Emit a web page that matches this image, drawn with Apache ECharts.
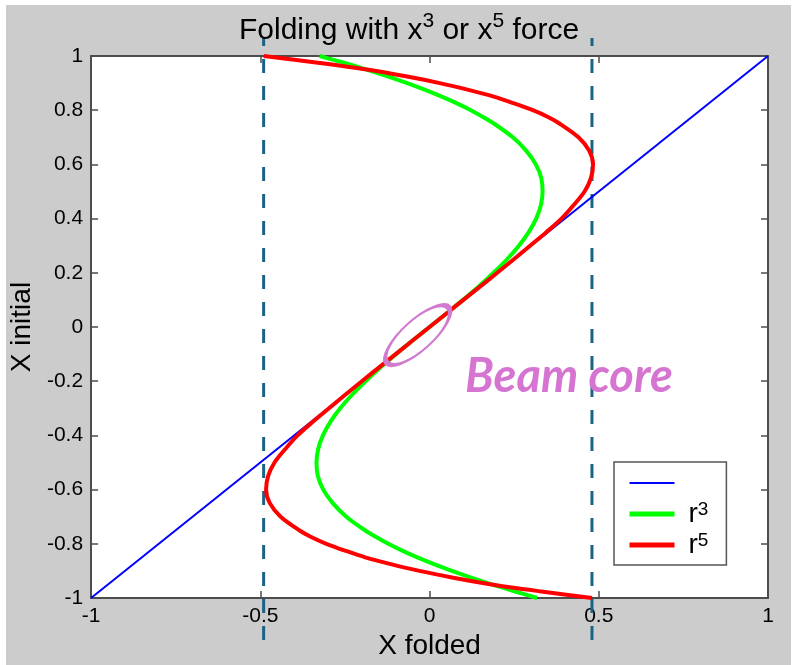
<!DOCTYPE html>
<html>
<head>
<meta charset="utf-8">
<script src="https://cdn.jsdelivr.net/npm/echarts@6/dist/echarts.min.js"></script>
<style>
  html, body { margin: 0; padding: 0; background: #ffffff; }
  #bg { position: absolute; left: 6px; top: 5px; width: 785px; height: 660px; background: #cccccc; }
  #chart { position: absolute; left: 0; top: 0; width: 794px; height: 665px; }
</style>
</head>
<body>
<div id="bg"></div>
<div id="chart"></div>
<script>
// ---- data ----
// initial position (vertical axis)
var xInitial = [-1, -0.975, -0.95, -0.925, -0.9, -0.875, -0.85, -0.825, -0.8, -0.775, -0.75, -0.7, -0.65, -0.6, -0.55, -0.5, -0.45, -0.4, -0.35, -0.3, -0.25, -0.2, -0.15, -0.1, -0.05, 0,
                0.05, 0.1, 0.15, 0.2, 0.25, 0.3, 0.35, 0.4, 0.45, 0.5, 0.55, 0.6, 0.65, 0.7, 0.75, 0.775, 0.8, 0.825, 0.85, 0.875, 0.9, 0.925, 0.95, 0.975, 1];
// folded position with x^3 force (green)
var foldedR3 = [0.318, 0.25, 0.184, 0.123, 0.066, 0.013, -0.036, -0.081, -0.122, -0.158, -0.191, -0.246, -0.286, -0.314, -0.33, -0.334, -0.329, -0.315, -0.293, -0.264, -0.229, -0.189, -0.146, -0.099, -0.05, 0,
                0.05, 0.099, 0.146, 0.189, 0.229, 0.264, 0.293, 0.315, 0.329, 0.334, 0.33, 0.314, 0.286, 0.246, 0.191, 0.158, 0.122, 0.081, 0.036, -0.013, -0.066, -0.124, -0.186, -0.253, -0.325];
// folded position with x^5 force (red)
var foldedR5 = [0.48, 0.325, 0.183, 0.07, -0.03, -0.115, -0.19, -0.25, -0.305, -0.35, -0.385, -0.44, -0.472, -0.483, -0.477, -0.458, -0.426, -0.39, -0.345, -0.297, -0.249, -0.2, -0.15, -0.1, -0.05, 0,
                0.05, 0.1, 0.15, 0.2, 0.249, 0.297, 0.345, 0.39, 0.426, 0.458, 0.477, 0.483, 0.472, 0.44, 0.385, 0.35, 0.305, 0.25, 0.19, 0.115, 0.03, -0.07, -0.185, -0.33, -0.49];
// un-folded reference (blue): x folded = x initial
var identityX = [-1, 1];
var identityY = [-1, 1];
// fold limits (dashed verticals)
var foldLimits = [-0.49, 0.48];
// beam core marker centre
var beamCore = [-0.035, -0.03];
// tick settings
var xTicks = { min: -1, max: 1, interval: 0.5 };
var yTicks = { min: -1, max: 1, interval: 0.2 };

function zip(xs, ys) { return xs.map(function (x, i) { return [x, ys[i]]; }); }

var FONT = "'Liberation Sans', Arial, Helvetica, sans-serif";
var AXC = '#4d4d4d';

var chart = echarts.init(document.getElementById('chart'), null, { renderer: 'canvas' });

var baseAxis = {
  axisLine: { show: true, onZero: false, lineStyle: { color: AXC, width: 2 } },
  axisTick: { show: true, inside: true, length: 7, lineStyle: { color: AXC, width: 1.5 } },
  splitLine: { show: false }
};

var option = {
  animation: false,
  backgroundColor: 'transparent',
  title: {
    text: '{a|Folding with x}{s|3}{a| or x}{s|5}{a| force}',
    left: 239, top: 11, padding: 0,
    textStyle: {
      fontWeight: 'normal',
      rich: {
        a: { fontFamily: FONT, fontSize: 30, fontWeight: 'normal', color: '#000', lineHeight: 35, verticalAlign: 'bottom' },
        s: { fontFamily: FONT, fontSize: 21, fontWeight: 'normal', color: '#000', lineHeight: 21, verticalAlign: 'top' }
      }
    }
  },
  grid: [
    { left: 91, right: 26, top: 56, bottom: 67, backgroundColor: '#ffffff', show: true, borderWidth: 0 },
    { left: 91, right: 26, top: 38, bottom: 25, show: false }
  ],
  xAxis: [
    Object.assign({}, baseAxis, {
      type: 'value', gridIndex: 0, position: 'bottom', min: xTicks.min, max: xTicks.max, interval: xTicks.interval,
      name: 'X folded', nameLocation: 'middle', nameGap: 29,
      nameTextStyle: { fontFamily: FONT, fontSize: 28, color: '#000' },
      axisLabel: { fontFamily: FONT, fontSize: 21, color: '#000', margin: 8 }
    }),
    Object.assign({}, baseAxis, {
      type: 'value', gridIndex: 0, position: 'top', min: xTicks.min, max: xTicks.max, interval: xTicks.interval,
      axisLabel: { show: false }
    }),
    { type: 'value', gridIndex: 1, min: xTicks.min, max: xTicks.max, show: false }
  ],
  yAxis: [
    Object.assign({}, baseAxis, {
      type: 'value', gridIndex: 0, position: 'left', min: yTicks.min, max: yTicks.max, interval: yTicks.interval,
      name: 'X initial', nameLocation: 'middle', nameGap: 46,
      nameTextStyle: { fontFamily: FONT, fontSize: 28, color: '#000' },
      axisLabel: { fontFamily: FONT, fontSize: 21, color: '#000', margin: 8 }
    }),
    Object.assign({}, baseAxis, {
      type: 'value', gridIndex: 0, position: 'right', min: yTicks.min, max: yTicks.max, interval: yTicks.interval,
      axisLabel: { show: false }
    }),
    { type: 'value', gridIndex: 1, min: 0, max: 1, show: false }
  ],
  legend: {
    orient: 'vertical',
    left: 614, top: 462,
    padding: [7, 18, 6, 13],
    itemGap: 3,
    itemWidth: 45, itemHeight: 14,
    backgroundColor: '#ffffff',
    borderColor: '#555555', borderWidth: 1.5, borderRadius: 0,
    itemStyle: { opacity: 0 },
    data: [
      { name: 'identity', lineStyle: { width: 2 } },
      { name: 'r3', lineStyle: { width: 5 } },
      { name: 'r5', lineStyle: { width: 5 } }
    ],
    formatter: function (name) {
      if (name === 'r3') return '{b|r}{s|3}';
      if (name === 'r5') return '{b|r}{s|5}';
      return '{b| }';
    },
    textStyle: {
      padding: [0, 0, 0, 9],
      rich: {
        b: { fontFamily: FONT, fontSize: 28, color: '#000', lineHeight: 28, verticalAlign: 'bottom' },
        s: { fontFamily: FONT, fontSize: 19, color: '#000', lineHeight: 16, verticalAlign: 'top' }
      }
    }
  },
  graphic: [
    {
      type: 'text', left: 465, top: 353, z: 100,
      style: {
        text: 'Beam core',
        fill: '#d574d1',
        font: 'italic bold 47px Lato, "Open Sans", sans-serif'
      }
    }
  ],
  series: [
    {
      type: 'line', xAxisIndex: 2, yAxisIndex: 2, z: 1, silent: true,
      data: [[foldLimits[0], 0], [foldLimits[0], 1]],
      symbol: 'none', lineStyle: { color: '#1c6285', width: 3, type: [14, 13] }
    },
    {
      type: 'line', xAxisIndex: 2, yAxisIndex: 2, z: 1, silent: true,
      data: [[foldLimits[1], 0], [foldLimits[1], 1]],
      symbol: 'none', lineStyle: { color: '#1c6285', width: 3, type: [14, 13] }
    },
    {
      name: 'identity', type: 'line', xAxisIndex: 0, yAxisIndex: 0, z: 2,
      data: zip(identityX, identityY), symbol: 'none',
      lineStyle: { color: '#0000ff', width: 2 }, itemStyle: { color: '#0000ff' }
    },
    {
      name: 'r3', type: 'line', xAxisIndex: 0, yAxisIndex: 0, z: 3,
      data: zip(foldedR3, xInitial), symbol: 'none', smooth: 0.3,
      lineStyle: { color: '#00ff00', width: 4 }, itemStyle: { color: '#00ff00' }
    },
    {
      name: 'r5', type: 'line', xAxisIndex: 0, yAxisIndex: 0, z: 4,
      data: zip(foldedR5, xInitial), symbol: 'none', smooth: 0.3,
      lineStyle: { color: '#ff0000', width: 4 }, itemStyle: { color: '#ff0000' }
    },
    {
      type: 'scatter', xAxisIndex: 0, yAxisIndex: 0, z: 5, silent: true,
      data: [beamCore],
      symbol: 'circle', symbolSize: [83, 30], symbolRotate: 42,
      itemStyle: { color: 'rgba(0,0,0,0)', borderColor: '#d07ad0', borderWidth: 3.5, opacity: 1 }
    }
  ]
};
chart.setOption(option);
</script>
</body>
</html>
